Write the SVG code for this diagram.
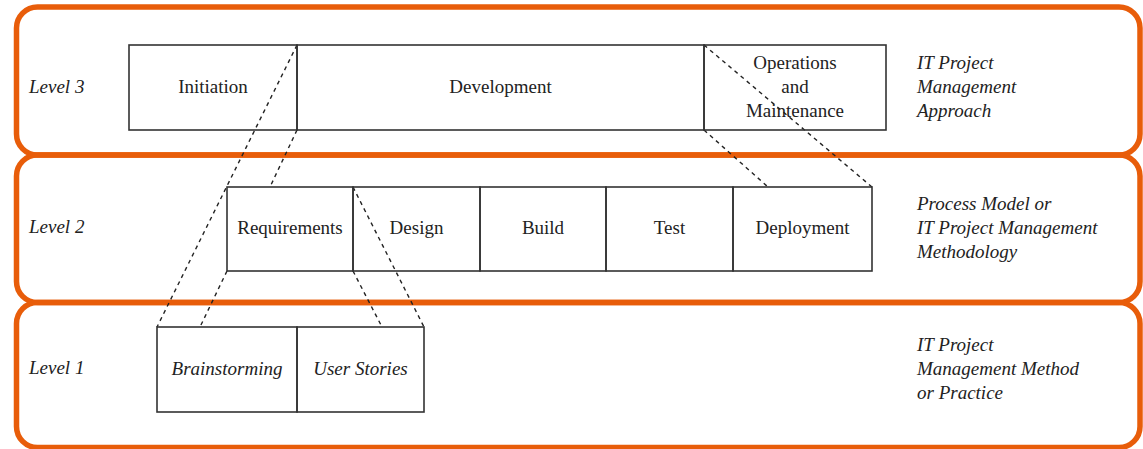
<svg xmlns="http://www.w3.org/2000/svg" width="1143" height="449" viewBox="0 0 1143 449">
<style>
.band{fill:none;stroke:#e85d0a;stroke-width:5.5}
.box{fill:none;stroke:#333;stroke-width:1.6}
.t{font-family:"Liberation Serif","Times New Roman",serif;font-size:19px;fill:#222}
.c{text-anchor:middle}
.i{font-style:italic}
.dash{fill:none;stroke:#222;stroke-width:1.4;stroke-dasharray:4 4}
</style>
<rect width="1143" height="449" fill="#fff"/>
<g id="bands">
<rect class="band" x="16.5" y="7" width="1123.5" height="148" rx="21"/>
<rect class="band" x="16.5" y="155" width="1123.5" height="147.5" rx="21"/>
<rect class="band" x="16.5" y="302.5" width="1123.5" height="145" rx="21"/>
</g>
<g id="labels">
<text class="t i" x="29" y="93">Level 3</text>
<text class="t i" x="29" y="233">Level 2</text>
<text class="t i" x="29" y="374">Level 1</text>
<text class="t i" x="917" y="69">IT Project</text>
<text class="t i" x="917" y="93">Management</text>
<text class="t i" x="917" y="117">Approach</text>
<text class="t i" x="917" y="210">Process Model or</text>
<text class="t i" x="917" y="234">IT Project Management</text>
<text class="t i" x="917" y="258">Methodology</text>
<text class="t i" x="917" y="351">IT Project</text>
<text class="t i" x="917" y="375">Management Method</text>
<text class="t i" x="917" y="399">or Practice</text>
</g>
<g id="connectors">
<line class="dash" x1="297" y1="45" x2="157" y2="327"/>
<line class="dash" x1="297" y1="130" x2="270" y2="187"/>
<line class="dash" x1="227" y1="271" x2="200" y2="327"/>
<line class="dash" x1="353" y1="187" x2="424" y2="327"/>
<line class="dash" x1="353" y1="271" x2="382" y2="327"/>
<line class="dash" x1="704" y1="45" x2="872" y2="187"/>
<line class="dash" x1="704" y1="130" x2="768" y2="187"/>
</g>
<g id="initiation"><rect class="box" x="129" y="45" width="168" height="85"/><text class="t c" x="213" y="93">Initiation</text></g>
<g id="development"><rect class="box" x="297" y="45" width="407" height="85"/><text class="t c" x="500.5" y="93">Development</text></g>
<g id="operations"><rect class="box" x="704" y="45" width="182" height="85"/><text class="t c" x="795" y="69">Operations</text><text class="t c" x="795" y="93">and</text><text class="t c" x="795" y="117">Maintenance</text></g>
<g id="requirements"><rect class="box" x="227" y="187" width="126" height="84"/><text class="t c" x="290" y="234">Requirements</text></g>
<g id="design"><rect class="box" x="353" y="187" width="127" height="84"/><text class="t c" x="416.5" y="234">Design</text></g>
<g id="build"><rect class="box" x="480" y="187" width="126" height="84"/><text class="t c" x="543" y="234">Build</text></g>
<g id="test"><rect class="box" x="606" y="187" width="127" height="84"/><text class="t c" x="669.5" y="234">Test</text></g>
<g id="deployment"><rect class="box" x="733" y="187" width="139" height="84"/><text class="t c" x="802.5" y="234">Deployment</text></g>
<g id="brainstorming"><rect class="box" x="157" y="327" width="140" height="85"/><text class="t c i" x="227" y="375">Brainstorming</text></g>
<g id="userstories"><rect class="box" x="297" y="327" width="127" height="85"/><text class="t c i" x="360.5" y="375">User Stories</text></g>
</svg>
